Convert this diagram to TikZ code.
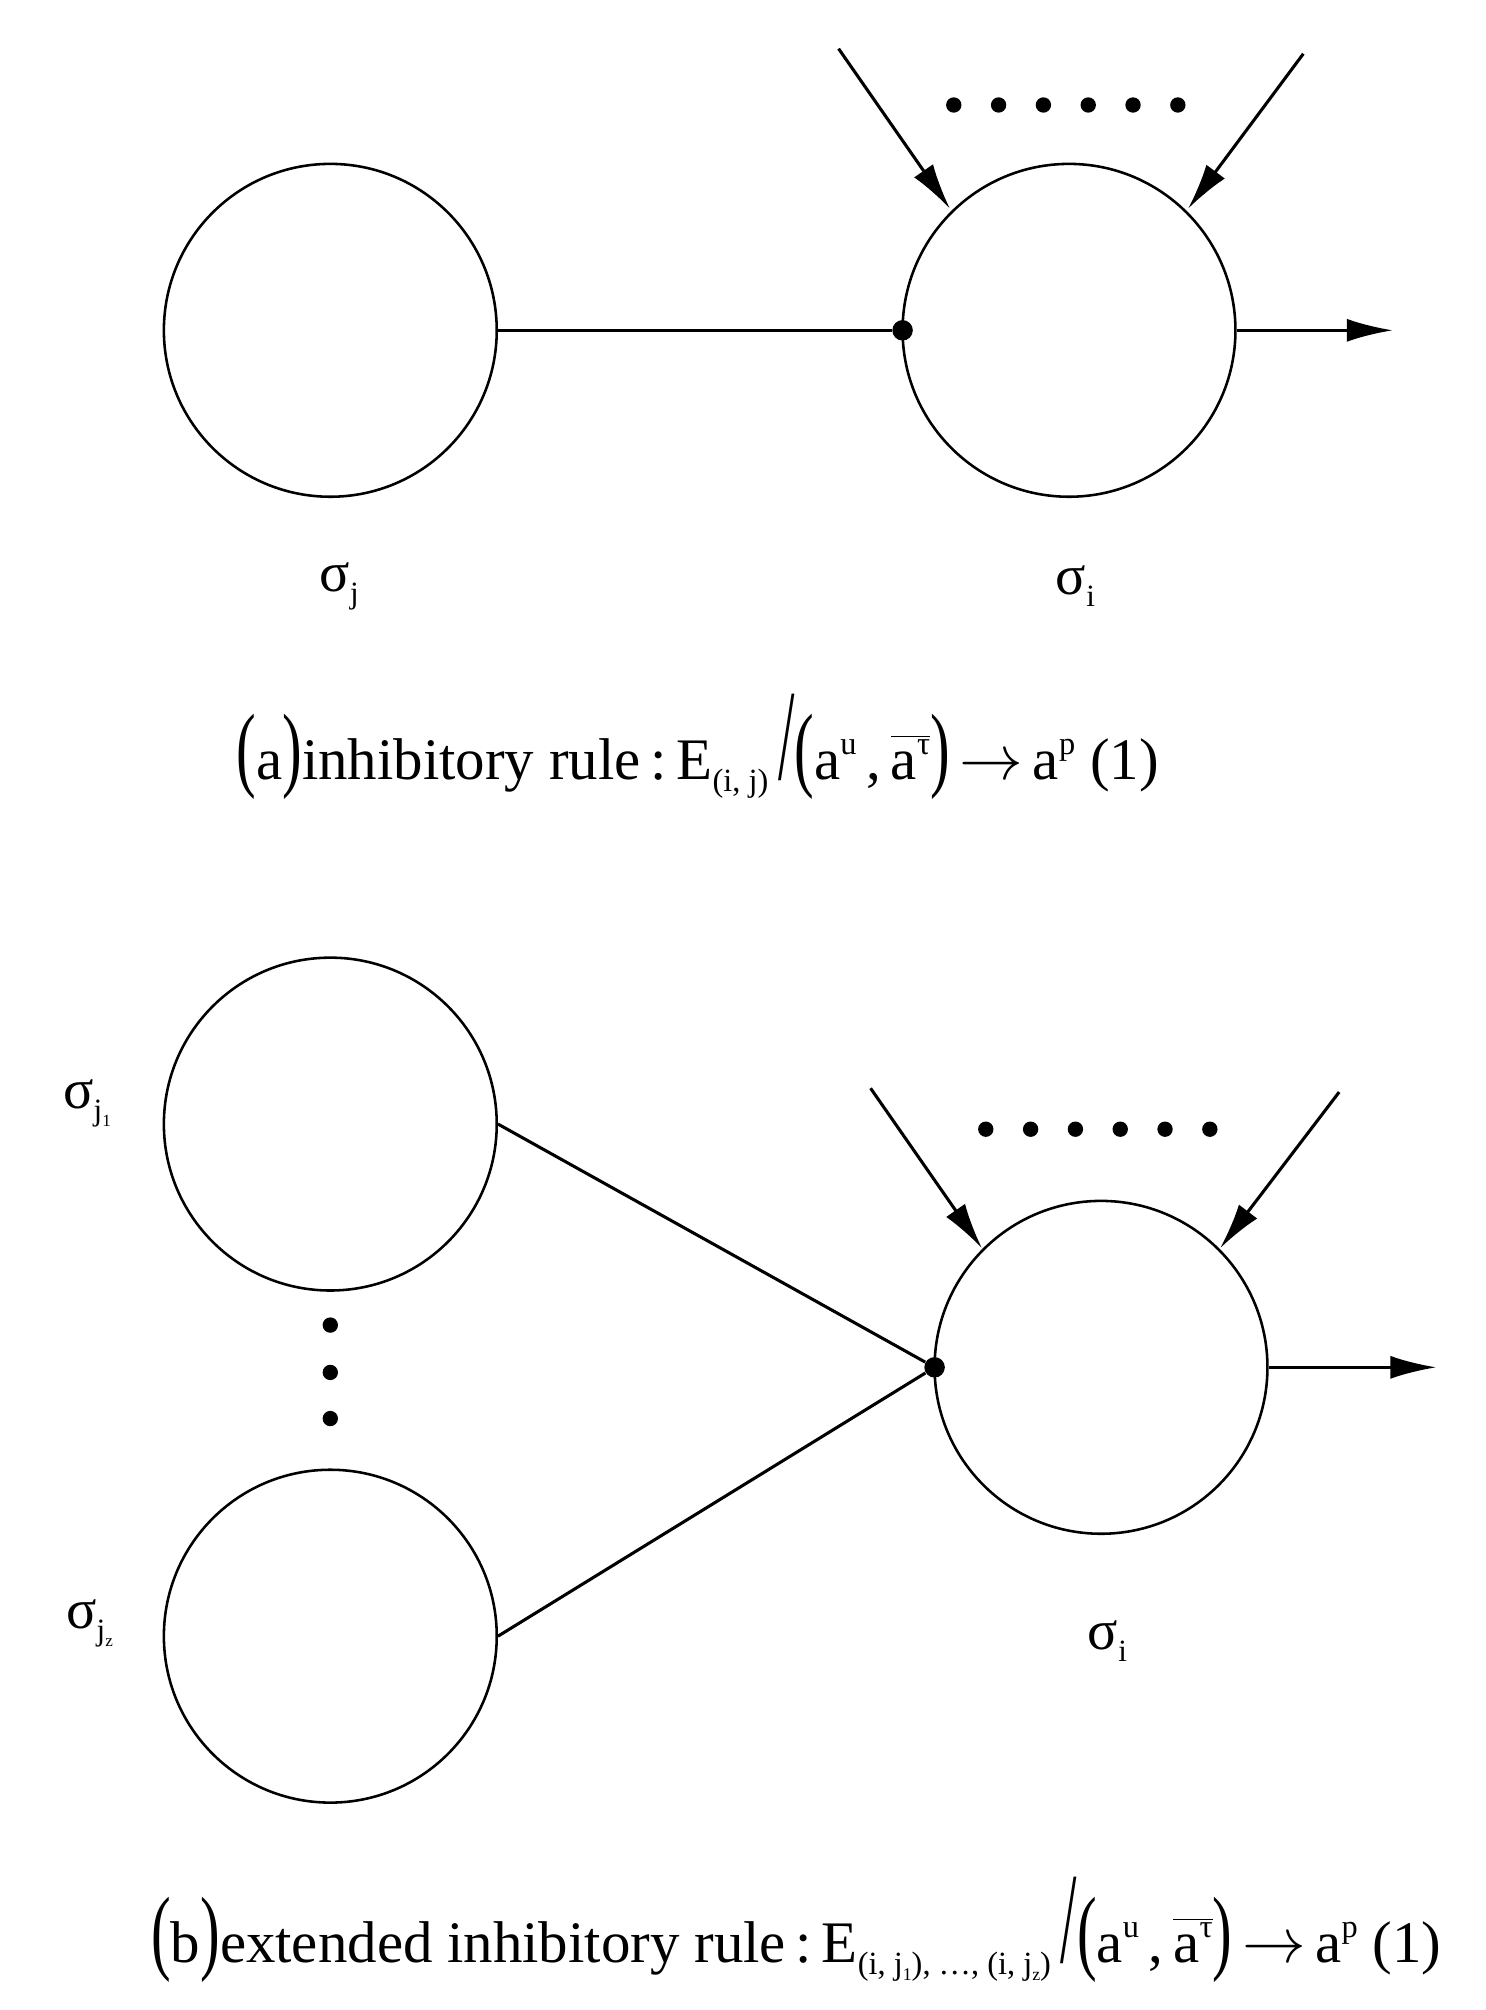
\documentclass[tikz,border=0pt]{standalone}
\usepackage{fontspec}
\usepackage{graphicx}
\setmainfont{Liberation Serif}
\usetikzlibrary{arrows.meta}
\newcommand{\sbs}[1]{\raisebox{-0.45ex}{\scalebox{0.55}{#1}}}
\newcommand{\sps}[1]{\raisebox{0.9ex}{\scalebox{0.55}{#1}}}
\newcommand{\bigpar}[1]{\scalebox{1}[1.6]{#1}}
\begin{document}
\begin{tikzpicture}[x=0.5pt,y=-0.5pt,
  cell/.style={circle,draw,line width=1pt,minimum size=130pt,inner sep=0pt},
  con/.style={line width=1.2pt},
  arr/.style={line width=1.2pt,-{Latex[length=18pt,width=9pt]}},
  blob/.style={circle,fill,inner sep=0pt,minimum size=8pt},
  lab/.style={font=\fontsize{22}{26}\selectfont},
  captxt/.style={font=\fontsize{23}{27}\selectfont}]
\useasboundingbox (0,0) rectangle (1160,1570);
% (a)
\node[cell] (j) at (258,258) {};
\node[cell] (i) at (835,258) {};
\node[blob] (d) at (705,258) {};
\draw[con] (j.east) -- (d);
\coordinate (o1) at (1088,258);
\draw[arr] (i.east) -- (o1);
\coordinate (s1) at (655,38); \coordinate (s2) at (1018,42);
\coordinate (t1) at (742,163); \coordinate (t2) at (928,163);
\draw[arr] (s1) -- (t1);
\draw[arr] (s2) -- (t2);
\foreach \x in {745,780,815,850,885,920} \node[blob,minimum size=6pt] at (\x,82) {};
\node[lab] (lj) at (265,458) {σ\sbs{j}};
\node[lab] (li) at (840,458) {σ\sbs{i}};
\node[captxt] (ca) at (545,583) {\bigpar{(}a\bigpar{)}inhibitory rule\,:\,E\sbs{(i, j)}\,\scalebox{1}[2.2]{/}\bigpar{(}a\sps{u}\,,\,$\overline{\hbox{a\sps{τ}}}$\bigpar{)}\,$\rightarrow$\,a\sps{p} (1)};
% (b)
\node[cell] (j1) at (258,878) {};
\node[cell] (jz) at (258,1278) {};
\node[cell] (ib) at (860,1068) {};
\node[blob] (db) at (730,1068) {};
\draw[con] (j1.east) -- (db);
\draw[con] (jz.east) -- (db);
\coordinate (o2) at (1122,1068);
\draw[arr] (ib.east) -- (o2);
\coordinate (s3) at (680,850); \coordinate (s4) at (1046,853);
\coordinate (t3) at (767,975); \coordinate (t4) at (953,975);
\draw[arr] (s3) -- (t3);
\draw[arr] (s4) -- (t4);
\foreach \x in {770,805,840,875,910,945} \node[blob,minimum size=6pt] at (\x,882) {};
\foreach \y in {1035,1072,1108} \node[blob,minimum size=6pt] at (258,\y) {};
\node[lab] (lj1) at (68,862) {σ\sbs{j\sbs{1}}};
\node[lab] (ljz) at (70,1268) {σ\sbs{j\sbs{z}}};
\node[lab] (lib) at (865,1282) {σ\sbs{i}};
\node[captxt] (cb) at (622,1507) {\bigpar{(}b\bigpar{)}extended inhibitory rule\,:\,E\sbs{(i, j\sbs{1}), …, (i, j\sbs{z})}\,\scalebox{1}[2.2]{/}\bigpar{(}a\sps{u}\,,\,$\overline{\hbox{a\sps{τ}}}$\bigpar{)}\,$\rightarrow$\,a\sps{p} (1)};
\end{tikzpicture}
\end{document}
